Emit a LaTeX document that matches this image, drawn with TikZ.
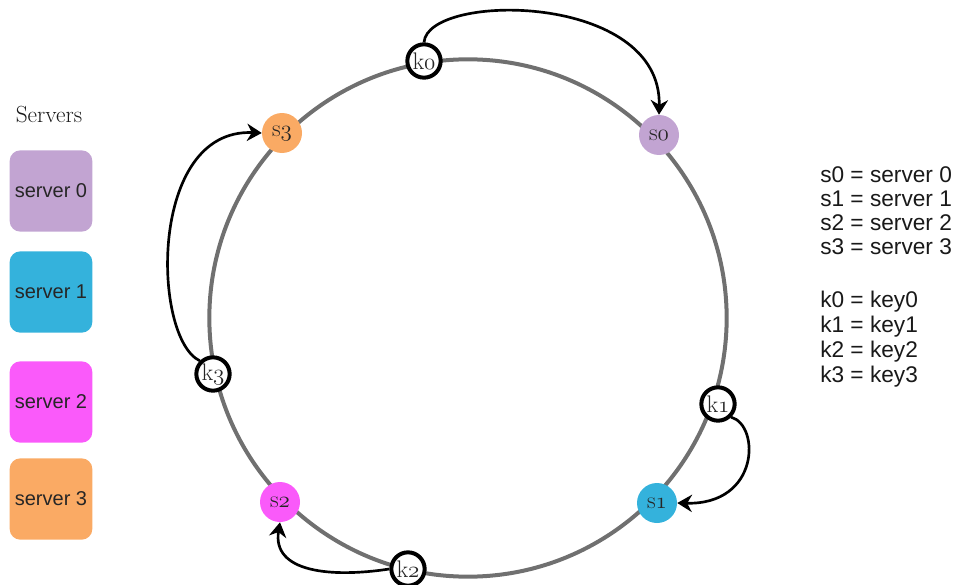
\documentclass[tikz,border=0pt]{standalone}
\usepackage{fontspec}
\setsansfont{Liberation Sans}
\usetikzlibrary{arrows.meta}

\definecolor{srvzero}{RGB}{194,164,210}
\definecolor{srvone}{RGB}{52,178,220}
\definecolor{srvtwo}{RGB}{250,90,250}
\definecolor{srvthree}{RGB}{250,170,100}
\definecolor{ringgray}{RGB}{112,112,112}

% old-style digit for the ring labels
\newcommand{\osdigit}[1]{{\usefont{OML}{cmm}{m}{it}#1}}

\tikzset{
  legendbox/.style={rounded corners=8pt, minimum width=62pt, minimum height=61pt,
    font=\sffamily\fontsize{15}{17}\selectfont, text=black!85},
  srvdot/.style={circle, minimum size=30pt, inner sep=0pt,
    font=\fontsize{18}{18}\selectfont, text=black!85},
  keydot/.style={circle, draw=black, line width=3pt, fill=white, minimum size=25pt,
    inner sep=0pt, font=\fontsize{18}{18}\selectfont, text=black!85},
  hop/.style={-{Stealth[length=11pt,width=13pt]}, line width=2pt},
  abbr/.style={anchor=west, inner sep=0pt, font=\sffamily\fontsize{17}{17}\selectfont,
    text=black!90},
}

\begin{document}
\begin{tikzpicture}[x=0.75pt, y=-0.75pt]
  \useasboundingbox (0,0) rectangle (957,585);
  % hash ring
  \coordinate (hub) at (468,318);
  \draw[ringgray, line width=3pt] (hub) circle[radius=194pt];

  % servers on the ring
  \node[srvdot, fill=srvzero] (s0) at (659,135) {s\osdigit{0}};
  \node[srvdot, fill=srvone] (s1) at (657,503) {s\osdigit{1}};
  \node[srvdot, fill=srvtwo] (s2) at (280,502) {s\osdigit{2}};
  \node[srvdot, fill=srvthree] (s3) at (282,133) {s\osdigit{3}};

  % keys on the ring
  \node[keydot] (k0) at (424,61) {k\osdigit{0}};
  \node[keydot] (k1) at (718,404) {k\osdigit{1}};
  \node[keydot] (k2) at (408,569) {k\osdigit{2}};
  \node[keydot] (k3) at (213,374) {k\osdigit{3}};

  % each key goes clockwise to the next server
  \draw[hop] (k0.north) .. controls (428,-8) and (662,-8) .. (s0.north);
  \draw[hop] (k1.south east) .. controls (760,425) and (760,505) .. (s1.east);
  \draw[hop] (k2.west) .. controls (330,578) and (272,572) .. (s2.south);
  \draw[hop] (k3.north west) .. controls (152,338) and (148,128) .. (s3.west);

  % legend
  \node[font=\fontsize{17.5}{18}\selectfont, text=black!90] (title) at (49,115) {Servers};
  \node[legendbox, fill=srvzero] (leg0) at (51,191) {server 0};
  \node[legendbox, fill=srvone] (leg1) at (51,292) {server 1};
  \node[legendbox, fill=srvtwo] (leg2) at (51,402) {server 2};
  \node[legendbox, fill=srvthree] (leg3) at (51,499) {server 3};

  % abbreviations
  \foreach \i/\y in {0/175,1/199,2/223,3/247}
    \node[abbr] (sdef\i) at (820,\y) {s\i{} = server \i};
  \foreach \i/\y in {0/302,1/327,2/352,3/377}
    \node[abbr] (kdef\i) at (820,\y) {k\i{} = key\i};
\end{tikzpicture}
\end{document}
